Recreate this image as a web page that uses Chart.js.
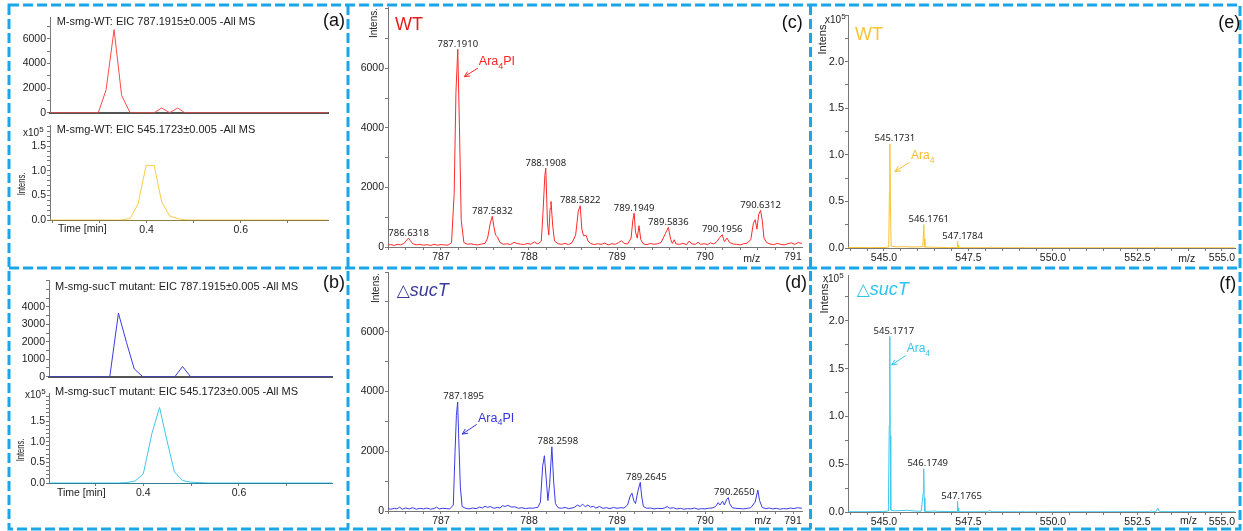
<!DOCTYPE html>
<html>
<head>
<meta charset="utf-8">
<title>Ara4PI / Ara4 EIC and MS</title>
<script src="https://cdn.jsdelivr.net/npm/chart.js@4.4.1/dist/chart.umd.min.js"></script>
<style>
  html, body { margin: 0; padding: 0; background: #fff; }
  #fig { position: relative; width: 1243px; height: 531px; overflow: hidden;
         font-family: "Liberation Sans", Arial, sans-serif; color: #222; }
  .plot { position: absolute; }
  .txt { position: absolute; white-space: nowrap; line-height: 1; }
  .rot { position: absolute; white-space: nowrap; line-height: 1; }
  #frame { position: absolute; left: 0; top: 0; pointer-events: none; }
</style>
</head>
<body>
<div id="fig">
  <svg id="frame" width="1243" height="531">
    <g fill="none" stroke="#1ba6ea" stroke-width="3" stroke-dasharray="10 4">
      <rect x="9" y="5" width="1231" height="524"/>
      <line x1="348" y1="5" x2="348" y2="529"/>
      <line x1="810.5" y1="5" x2="810.5" y2="529"/>
      <line x1="9" y1="268" x2="1240" y2="268"/>
    </g>
  </svg>
</div>
<script>
// ---- EIC traces, time in min ----
const wtEic787Time = [0.195, 0.2975, 0.314, 0.331, 0.347, 0.365, 0.416, 0.432, 0.449, 0.466, 0.481, 0.785];
const wtEic787Int  = [0, 0, 1850, 6750, 1400, 0, 0, 380, 0, 380, 0, 0];
const wtEic545Time = [0.195, 0.347, 0.365, 0.382, 0.399, 0.416, 0.432, 0.449, 0.467, 0.485, 0.785];
const wtEic545Int  = [0, 0, 0.03, 0.33, 1.11, 1.11, 0.37, 0.08, 0.027, 0, 0];          // x10^5
const sucEic787Time = [0.203, 0.330, 0.348, 0.365, 0.381, 0.399, 0.466, 0.482, 0.499, 0.794];
const sucEic787Int  = [0, 0, 3640, 1950, 450, 0, 0, 580, 0, 0];
const sucEic545Time = [0.203, 0.348, 0.365, 0.383, 0.400, 0.418, 0.434, 0.449, 0.465, 0.482, 0.499, 0.518, 0.536, 0.794];
const sucEic545Int  = [0, 0, 0.01, 0.05, 0.22, 1.2, 1.83, 1.05, 0.27, 0.06, 0.02, 0.01, 0, 0]; // x10^5

// ---- MS around 787 (m/z, intensity) ----
const wtSpec = [
  [786.39,60],[786.43,80],[786.47,50],[786.50,90],[786.54,70],[786.58,120],[786.61,230],[786.6318,300],
  [786.65,220],[786.68,110],[786.72,70],[786.76,90],[786.80,60],[786.84,80],[786.88,50],[786.92,90],
  [786.96,60],[787.00,80],[787.04,70],[787.08,60],[787.12,150],[787.15,1800],[787.17,5200],[787.191,6640],
  [787.21,4000],[787.23,900],[787.26,150],[787.30,90],[787.34,110],[787.38,80],[787.42,70],[787.46,100],
  [787.50,120],[787.53,300],[787.56,800],[787.5832,1030],[787.60,700],[787.62,400],[787.64,350],[787.67,150],
  [787.71,90],[787.75,110],[787.79,80],[787.83,160],[787.86,120],[787.90,100],[787.94,80],[787.98,120],
  [788.02,90],[788.06,170],[788.10,100],[788.14,200],[788.16,1200],[788.18,2400],[788.1908,2650],[788.21,800],
  [788.225,400],[788.24,1300],[788.25,1530],[788.27,700],[788.29,200],[788.33,110],[788.37,90],[788.41,120],
  [788.45,80],[788.49,150],[788.53,400],[788.56,1200],[788.5822,1385],[788.60,600],[788.62,380],[788.65,390],
  [788.67,200],[788.70,120],[788.74,80],[788.78,110],[788.82,90],[788.86,130],[788.90,70],[788.94,110],
  [788.98,90],[789.02,150],[789.05,210],[789.08,120],[789.12,100],[789.16,300],[789.18,900],[789.1949,1140],
  [789.21,500],[789.23,300],[789.25,715],[789.27,250],[789.30,100],[789.34,80],[789.38,120],[789.42,90],
  [789.46,110],[789.50,150],[789.55,450],[789.5836,660],[789.61,250],[789.63,120],[789.65,245],[789.67,100],
  [789.71,90],[789.75,120],[789.79,80],[789.82,200],[789.85,100],[789.89,90],[789.92,160],[789.95,90],
  [789.99,110],[790.03,80],[790.06,140],[790.10,100],[790.14,200],[790.17,330],[790.1956,413],[790.22,180],
  [790.25,300],[790.28,150],[790.32,100],[790.36,90],[790.40,70],[790.44,110],[790.48,130],[790.52,250],
  [790.55,800],[790.57,916],[790.59,600],[790.61,1100],[790.6312,1229],[790.65,900],[790.67,300],[790.70,150],
  [790.74,100],[790.78,80],[790.82,120],[790.86,90],[790.90,70],[790.94,110],[790.98,140],[791.02,90],
  [791.06,150],[791.10,120]
];
const sucSpec = [
  [786.39,80],[786.43,60],[786.47,90],[786.50,70],[786.53,130],[786.56,60],[786.60,100],[786.64,70],
  [786.68,110],[786.72,60],[786.76,90],[786.80,70],[786.84,100],[786.88,60],[786.92,80],[786.95,130],
  [786.98,70],[787.02,90],[787.06,80],[787.10,70],[787.14,200],[787.16,2000],[787.175,3200],[787.1895,3650],
  [787.20,2600],[787.22,800],[787.24,150],[787.28,90],[787.32,70],[787.36,100],[787.40,80],[787.44,130],
  [787.47,100],[787.50,160],[787.53,120],[787.56,150],[787.60,90],[787.64,120],[787.67,100],[787.70,180],
  [787.73,150],[787.76,190],[787.80,130],[787.84,140],[787.88,90],[787.92,110],[787.96,80],[788.00,100],
  [788.04,90],[788.07,110],[788.10,120],[788.13,300],[788.155,1500],[788.175,1850],[788.195,1100],[788.215,350],
  [788.235,900],[788.2598,2150],[788.28,1000],[788.30,250],[788.33,110],[788.37,90],[788.41,120],[788.45,80],
  [788.49,100],[788.52,130],[788.55,200],[788.58,150],[788.61,230],[788.64,140],[788.67,200],[788.70,130],
  [788.73,160],[788.76,100],[788.80,150],[788.84,90],[788.88,110],[788.92,80],[788.96,120],[789.00,90],
  [789.04,110],[789.08,100],[789.12,200],[789.15,500],[789.17,600],[789.19,350],[789.21,250],[789.24,700],
  [789.2645,960],[789.28,500],[789.30,150],[789.34,90],[789.38,100],[789.42,70],[789.46,90],[789.50,80],
  [789.54,100],[789.57,150],[789.60,90],[789.64,110],[789.68,70],[789.72,90],[789.76,60],[789.80,80],
  [789.84,70],[789.88,100],[789.92,60],[789.96,80],[790.00,70],[790.04,90],[790.08,100],[790.12,150],
  [790.15,280],[790.17,200],[790.20,330],[790.22,200],[790.245,380],[790.265,450],[790.28,250],[790.31,110],
  [790.35,90],[790.40,80],[790.44,70],[790.48,90],[790.52,110],[790.57,300],[790.60,700],[790.62,350],
  [790.65,120],[790.69,80],[790.73,100],[790.77,70],[790.81,90],[790.85,60],[790.89,80],[790.93,70],
  [790.97,100],[791.01,80],[791.05,110],[791.10,90]
];

// ---- MS around 545 (m/z, intensity x10^5) ----
const wtAraSpec = [
  [543.94,0.004],[544.2,0.006],[544.6,0.004],[545.0,0.005],[545.14,0.01],[545.16,0.6],[545.1731,1.118],
  [545.19,0.5],[545.21,0.02],[545.4,0.012],[545.6,0.015],[545.8,0.01],[546.0,0.012],[546.15,0.015],
  [546.165,0.15],[546.1761,0.25],[546.19,0.1],[546.21,0.01],[546.5,0.008],[546.9,0.004],[547.16,0.005],
  [547.17,0.05],[547.1784,0.071],[547.19,0.03],[547.21,0.003],[548.1,0.003],[548.17,0.012],[548.2,0.003],
  [549.0,0.002],[549.15,0.006],[549.2,0.002],[553.0,0.002],[553.1,0.008],[553.15,0.002],[555.38,0.002]
];
const sucAraSpec = [
  [543.94,0.003],[544.5,0.003],[544.95,0.005],[545.13,0.01],[545.155,0.9],[545.1717,1.836],[545.185,0.8],
  [545.2,0.02],[545.3,0.012],[545.5,0.015],[545.7,0.018],[545.9,0.01],[546.1,0.008],[546.16,0.2],
  [546.1749,0.453],[546.19,0.15],[546.21,0.005],[546.5,0.01],[546.6,0.006],[547.16,0.004],[547.17,0.07],
  [547.1765,0.111],[547.19,0.04],[547.21,0.003],[548.08,0.003],[548.12,0.02],[548.16,0.003],[549.05,0.002],
  [549.1,0.008],[549.15,0.002],[552.85,0.003],[552.9,0.012],[552.95,0.003],[553.05,0.005],[553.1,0.04],
  [553.15,0.004],[555.38,0.003]
];

// ---- labelled peaks ----
const wtPeakMz   = [786.6318, 787.1910, 787.5832, 788.1908, 788.5822, 789.1949, 789.5836, 790.1956, 790.6312];
const wtPeakInt  = [300, 6640, 1030, 2650, 1385, 1140, 660, 413, 1229];
const sucPeakMz  = [787.1895, 788.2598, 789.2645, 790.2650];
const sucPeakInt = [3650, 2150, 960, 450];
const wtAraPeakMz   = [545.1731, 546.1761, 547.1784];
const wtAraPeakInt  = [1.118, 0.25, 0.071];
const sucAraPeakMz  = [545.1717, 546.1749, 547.1765];
const sucAraPeakInt = [1.836, 0.453, 0.111];

// ---- tick labels ----
const eicTimeLabels   = [0.4, 0.6];
const wtEic787Labels  = [0, 2000, 4000, 6000];
const sucEic787Labels = [0, 1000, 2000, 3000, 4000];
const eic545Labels    = [0, 0.5, 1, 1.5];
const specMzLabels    = [787, 788, 789, 790, 791];
const specIntLabels   = [0, 2000, 4000, 6000];
const araMzLabels     = [545, 547.5, 550, 552.5, 555];
const araIntLabels    = [0, 0.5, 1, 1.5, 2];

const fig = document.getElementById('fig');
const SANS = '"Liberation Sans", Arial, sans-serif';

function stepTicks(lo, hi, step) {
  const out = [];
  for (let v = lo; v <= hi + 1e-9; v += step) out.push(+v.toFixed(6));
  return out;
}
const hasLabel = (list, v) => list.some(m => Math.abs(m - v) < 1e-6);
const xy = (xs, ys) => xs.map((v, i) => ({ x: v, y: ys[i] }));
const pairs = arr => arr.map(p => ({ x: p[0], y: p[1] }));

// peak labels and the arrow tag are drawn on top of the trace
const notes = {
  id: 'notes',
  afterDatasetsDraw(chart, args, o) {
    const { ctx } = chart;
    const xs = chart.scales.x, ys = chart.scales.y;
    ctx.save();
    if (o.peaksMz) {
      ctx.font = '9.5px "Noto Sans", sans-serif';
      ctx.fillStyle = '#222';
      ctx.textAlign = 'center';
      ctx.textBaseline = 'alphabetic';
      o.peaksMz.forEach((m, i) => {
        ctx.fillText(m.toFixed(4), xs.getPixelForValue(m) + (o.dx || 0), ys.getPixelForValue(o.peaksInt[i]) - 2.5);
      });
    }
    if (o.tag) {
      const t = o.tag;
      const x0 = xs.getPixelForValue(t.from.x), y0 = ys.getPixelForValue(t.from.y);
      const x1 = xs.getPixelForValue(t.to.x), y1 = ys.getPixelForValue(t.to.y);
      ctx.strokeStyle = t.color;
      ctx.lineWidth = 1;
      ctx.beginPath();
      ctx.moveTo(x0, y0);
      ctx.lineTo(x1, y1);
      const a = Math.atan2(y1 - y0, x1 - x0);
      ctx.moveTo(x1 - 6 * Math.cos(a - 0.45), y1 - 6 * Math.sin(a - 0.45));
      ctx.lineTo(x1, y1);
      ctx.lineTo(x1 - 6 * Math.cos(a + 0.45), y1 - 6 * Math.sin(a + 0.45));
      ctx.stroke();
      let tx = xs.getPixelForValue(t.at.x);
      const ty = ys.getPixelForValue(t.at.y);
      ctx.fillStyle = t.color;
      ctx.textAlign = 'left';
      ctx.font = t.size + 'px ' + SANS;
      ctx.fillText('Ara', tx, ty);
      tx += ctx.measureText('Ara').width;
      ctx.font = (t.size * 0.72) + 'px ' + SANS;
      ctx.fillText('4', tx, ty + t.size * 0.3);
      tx += ctx.measureText('4').width;
      if (t.after) {
        ctx.font = t.size + 'px ' + SANS;
        ctx.fillText(t.after, tx, ty);
      }
    }
    ctx.restore();
  }
};

function makePlot(area, o) {
  const padTop = 8, padRight = 12;
  const div = document.createElement('div');
  div.className = 'plot';
  Object.assign(div.style, {
    left: (area.l - o.yW) + 'px',
    top: (area.t - padTop) + 'px',
    width: (area.r - area.l + o.yW + padRight) + 'px',
    height: (area.b - area.t + padTop + o.xH) + 'px'
  });
  const cv = document.createElement('canvas');
  div.appendChild(cv);
  fig.appendChild(div);

  return new Chart(cv, {
    type: 'line',
    data: {
      datasets: [{
        data: o.data,
        borderColor: o.color,
        borderWidth: 1,
        pointRadius: 0,
        tension: 0,
        fill: false
      }]
    },
    options: {
      responsive: true,
      maintainAspectRatio: false,
      animation: false,
      events: [],
      layout: { autoPadding: false, padding: { top: padTop, right: padRight, left: 0, bottom: 0 } },
      plugins: { legend: { display: false }, tooltip: { enabled: false }, notes: o.notes || {} },
      scales: {
        x: {
          type: 'linear', min: o.x.min, max: o.x.max,
          afterFit: s => { s.height = o.xH; },
          afterBuildTicks: s => { s.ticks = stepTicks(o.x.from, o.x.to, o.x.step).map(v => ({ value: v })); },
          ticks: {
            display: !!o.x.labels, autoSkip: false, maxRotation: 0, minRotation: 0, padding: 1,
            color: '#222', font: { family: SANS, size: o.x.font || 10.5 },
            callback: v => (o.x.labels && hasLabel(o.x.labels, v)) ? v.toFixed(o.x.dec) : ''
          },
          grid: { drawOnChartArea: false, drawTicks: !!o.x.labels, tickLength: 3, color: '#777' },
          border: { color: o.x.axisColor || '#777', width: o.x.axisWidth || 1 }
        },
        y: {
          type: 'linear', min: 0, max: o.y.max,
          afterFit: s => { s.width = o.yW; },
          afterBuildTicks: s => { s.ticks = stepTicks(0, o.y.to, o.y.step).map(v => ({ value: v })); },
          ticks: {
            autoSkip: false, padding: 1,
            color: '#222', font: { family: SANS, size: o.y.font || 10.5 },
            callback: v => hasLabel(o.y.labels, v) ? v.toFixed(o.y.dec) : ''
          },
          grid: { drawOnChartArea: false, drawTicks: true, tickLength: 3, color: '#777' },
          border: { color: '#777', width: 1 }
        }
      }
    },
    plugins: [notes]
  });
}

// (a) wild type EICs
makePlot({ l: 50, r: 328, t: 17, b: 118 }, {
  yW: 40, xH: 2, color: '#ff4a4a', data: xy(wtEic787Time, wtEic787Int),
  x: { min: 0.195, max: 0.785, from: 0.2, to: 0.7, step: 0.1, axisColor: '#555', axisWidth: 2 },
  y: { max: 7770, to: 7000, step: 1000, labels: wtEic787Labels, dec: 0 }
});
makePlot({ l: 50, r: 328, t: 125, b: 220 }, {
  yW: 40, xH: 18, color: '#ffc94a', data: xy(wtEic545Time, wtEic545Int),
  x: { min: 0.195, max: 0.785, from: 0.2, to: 0.7, step: 0.1, labels: eicTimeLabels, dec: 1, font: 10.5, axisColor: '#8a8040' },
  y: { max: 1.93, to: 1.9, step: 0.1, labels: eic545Labels, dec: 1 }
});
// (b) sucT mutant EICs
makePlot({ l: 49, r: 332, t: 280, b: 382 }, {
  yW: 40, xH: 2, color: '#3b3be0', data: xy(sucEic787Time, sucEic787Int),
  x: { min: 0.2029, max: 0.7944, from: 0.3, to: 0.7, step: 0.1, axisColor: '#555', axisWidth: 2 },
  y: { max: 5540, to: 5500, step: 500, labels: sucEic787Labels, dec: 0 }
});
makePlot({ l: 49, r: 332, t: 393, b: 483 }, {
  yW: 40, xH: 18, color: '#40c6e8', data: xy(sucEic545Time, sucEic545Int),
  x: { min: 0.2029, max: 0.7944, from: 0.3, to: 0.7, step: 0.1, labels: eicTimeLabels, dec: 1, font: 10.5, axisColor: '#2d7f9a' },
  y: { max: 2.18, to: 2.1, step: 0.1, labels: eic545Labels, dec: 1 }
});

// (c) WT spectrum
makePlot({ l: 388, r: 802, t: 7, b: 247 }, {
  yW: 45, xH: 18, color: '#ff2a2a', data: pairs(wtSpec),
  x: { min: 786.398, max: 791.102, from: 786.4, to: 791.0, step: 0.2, labels: specMzLabels, dec: 0, font: 10.5 },
  y: { max: 8060, to: 8000, step: 1000, labels: specIntLabels, dec: 0 },
  notes: {
    peaksMz: wtPeakMz, peaksInt: wtPeakInt, dx: 0,
    tag: { color: '#ff2424', size: 12.5, after: 'PI', at: { x: 787.43, y: 6110 },
           from: { x: 787.42, y: 6010 }, to: { x: 787.265, y: 5720 } }
  }
});
// (d) sucT spectrum
makePlot({ l: 388, r: 802, t: 272, b: 511 }, {
  yW: 45, xH: 18, color: '#3b3be6', data: pairs(sucSpec),
  x: { min: 786.398, max: 791.102, from: 786.4, to: 791.0, step: 0.2, labels: specMzLabels, dec: 0, font: 10.5 },
  y: { max: 8000, to: 8000, step: 1000, labels: specIntLabels, dec: 0 },
  notes: {
    peaksMz: sucPeakMz, peaksInt: sucPeakInt, dx: 6,
    tag: { color: '#3434dd', size: 12.5, after: 'PI', at: { x: 787.42, y: 2990 },
           from: { x: 787.406, y: 2900 }, to: { x: 787.242, y: 2575 } }
  }
});

// (e) WT Ara4 spectrum
makePlot({ l: 848, r: 1235, t: 15, b: 248 }, {
  yW: 35, xH: 18, color: '#f8c22e', data: pairs(wtAraSpec),
  x: { min: 543.935, max: 555.385, from: 544, to: 555, step: 0.5, labels: araMzLabels, dec: 1 },
  y: { max: 2.5, to: 2.5, step: 0.25, labels: araIntLabels, dec: 1, font: 11 },
  notes: {
    peaksMz: wtAraPeakMz, peaksInt: wtAraPeakInt, dx: 5,
    tag: { color: '#f5be30', size: 12, at: { x: 545.80, y: 0.954 },
           from: { x: 545.75, y: 0.917 }, to: { x: 545.325, y: 0.821 } }
  }
});
// (f) sucT Ara4 spectrum
makePlot({ l: 848, r: 1235, t: 275, b: 512 }, {
  yW: 35, xH: 18, color: '#3fc8ec', data: pairs(sucAraSpec),
  x: { min: 543.935, max: 555.385, from: 544, to: 555, step: 0.5, labels: araMzLabels, dec: 1 },
  y: { max: 2.48, to: 2.25, step: 0.25, labels: araIntLabels, dec: 1, font: 11 },
  notes: {
    peaksMz: sucAraPeakMz, peaksInt: sucAraPeakInt, dx: 4,
    tag: { color: '#33c6ee', size: 12, at: { x: 545.67, y: 1.672 },
           from: { x: 545.64, y: 1.636 }, to: { x: 545.228, y: 1.539 } }
  }
});

// ---- static text: titles, panel letters, axis captions ----
function text(html, left, baseline, size, color, extra) {
  const el = document.createElement('div');
  el.className = 'txt';
  el.innerHTML = html;
  Object.assign(el.style, {
    left: left + 'px', top: (baseline - 0.8465 * size) + 'px',
    fontSize: size + 'px', color: color || '#222'
  }, extra || {});
  fig.appendChild(el);
}
function vtext(html, cx, cy, size, squeeze) {
  const el = document.createElement('div');
  el.className = 'rot';
  el.innerHTML = html;
  Object.assign(el.style, {
    left: cx + 'px', top: cy + 'px', fontSize: size + 'px',
    transform: 'translate(-50%, -50%) rotate(-90deg) scaleX(' + (squeeze || 1) + ')'
  });
  fig.appendChild(el);
}
const x105 = '<span>x10</span><sup style="font-size:0.8em;vertical-align:0.45em;line-height:0">5</sup>';
const dSucT = '<span style="font-family:\'DejaVu Sans\';font-size:0.95em">&#9651;</span><i>sucT</i>';

text('M-smg-WT: EIC 787.1915&plusmn;0.005 -All MS', 56.7, 25, 11);
text('M-smg-WT: EIC 545.1723&plusmn;0.005 -All MS', 56.7, 133.3, 11);
text('M-smg-sucT mutant: EIC 787.1915&plusmn;0.005 -All MS', 55, 290.7, 11);
text('M-smg-sucT mutant: EIC 545.1723&plusmn;0.005 -All MS', 55, 395, 11);

text('(a)', 323, 26.2, 18, '#111');
text('(b)', 323, 288, 18, '#111');
text('(c)', 781.7, 28, 18, '#111');
text('(d)', 785, 288, 18, '#111');
text('(e)', 1218.3, 28, 18, '#111');
text('(f)', 1219.3, 289.5, 18, '#111');

text('WT', 395, 30, 18, '#e81c1c');
text(dSucT, 396.7, 296, 18, '#3a3a99');
text('WT', 855, 40, 18, '#f8c43a');
text(dSucT, 856.7, 295.5, 18, '#2ec4ef');

text(x105, 23, 136, 10);
text(x105, 25, 398.5, 10);
text(x105, 825, 23.5, 10);
text(x105, 823, 282.5, 10);

text('Time [min]', 58, 232, 10.5);
text('Time [min]', 57, 496, 10.5);
text('m/z', 743.3, 261.7, 10.5);
text('m/z', 754.3, 524.3, 10.5);
text('m/z', 1178.3, 261.7, 10.5);
text('m/z', 1180, 524.3, 10.5);

vtext('Intens.', 21, 184, 10.5, 0.72);
vtext('Intens.', 20, 449.5, 10.5, 0.72);
vtext('Intens.', 373.7, 22.8, 10);
vtext('Intens.', 376, 288.3, 10);
vtext('Intens.', 821.7, 38.3, 11);
vtext('Intens.', 824, 296.7, 11);
</script>
</body>
</html>
